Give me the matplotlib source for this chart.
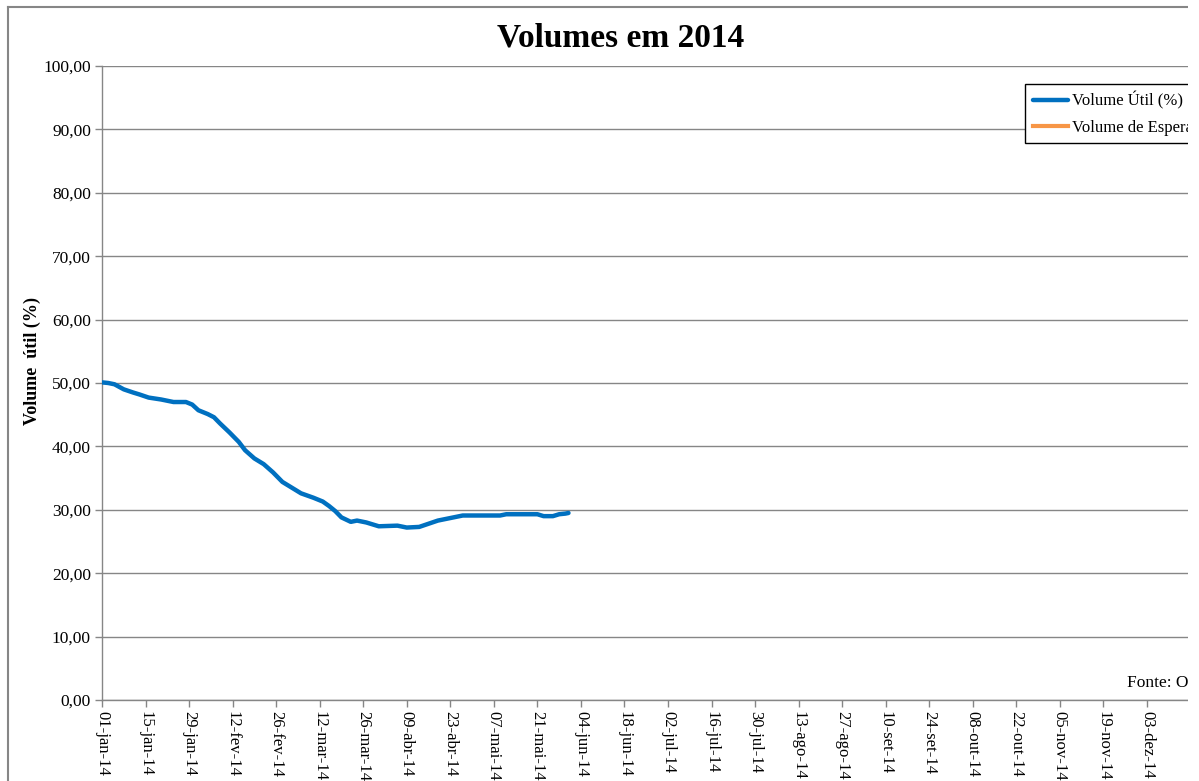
import datetime
import numpy as np
import matplotlib
matplotlib.use('Agg')
import matplotlib.pyplot as plt
from matplotlib.patches import Rectangle
from matplotlib.lines import Line2D

plt.rcParams['font.family'] = ['Liberation Serif', 'DejaVu Serif']

# volume util (%)
dias = ['2014-01-01', '2014-01-03', '2014-01-05', '2014-01-08', '2014-01-11',
        '2014-01-13', '2014-01-16', '2014-01-20', '2014-01-24', '2014-01-28',
        '2014-01-30', '2014-02-01', '2014-02-04', '2014-02-06', '2014-02-08',
        '2014-02-11', '2014-02-14', '2014-02-16', '2014-02-19', '2014-02-22',
        '2014-02-25', '2014-02-28', '2014-03-03', '2014-03-06', '2014-03-10',
        '2014-03-13', '2014-03-15', '2014-03-17', '2014-03-19', '2014-03-22',
        '2014-03-24', '2014-03-27', '2014-03-31', '2014-04-06', '2014-04-09',
        '2014-04-13', '2014-04-16', '2014-04-19', '2014-04-24', '2014-04-27',
        '2014-05-02', '2014-05-09', '2014-05-11', '2014-05-21', '2014-05-23',
        '2014-05-26', '2014-05-28', '2014-05-30', '2014-05-31']
volume_util = [50.1, 50.0, 49.8, 49.0, 48.5,
               48.2, 47.7, 47.4, 47.0, 47.0,
               46.6, 45.7, 45.1, 44.6, 43.6,
               42.2, 40.7, 39.4, 38.1, 37.2,
               35.9, 34.4, 33.5, 32.6, 31.9,
               31.3, 30.6, 29.8, 28.8, 28.1,
               28.3, 28.0, 27.4, 27.5, 27.2,
               27.3, 27.8, 28.3, 28.8, 29.1,
               29.1, 29.1, 29.3, 29.3, 29.0,
               29.0, 29.3, 29.4, 29.5]
volume_espera = []

tick_labels = ['01-jan-14', '15-jan-14', '29-jan-14', '12-fev-14', '26-fev-14',
               '12-mar-14', '26-mar-14', '09-abr-14', '23-abr-14', '07-mai-14',
               '21-mai-14', '04-jun-14', '18-jun-14', '02-jul-14', '16-jul-14',
               '30-jul-14', '13-ago-14', '27-ago-14', '10-set-14', '24-set-14',
               '08-out-14', '22-out-14', '05-nov-14', '19-nov-14', '03-dez-14']

W, H = 1199, 781
fig = plt.figure(figsize=(W / 100, H / 100), dpi=100)
ax = fig.add_axes([102 / W, 1 - 700 / H, 1132 / W, 634 / H])

inicio = datetime.datetime(2014, 1, 1)
datas = [datetime.datetime.strptime(d, '%Y-%m-%d') for d in dias]
ticks = [inicio + datetime.timedelta(days=14 * i) for i in range(len(tick_labels))]

cinza = '#868686'
ax.plot(datas, volume_util, color='#0070C0', linewidth=3.2,
        solid_capstyle='round', solid_joinstyle='round',
        label='Volume Útil (%)', zorder=3)
ax.plot([], [], color='#F79646', linewidth=3, label='Volume de Espera')

ax.set_xlim(inicio, datetime.datetime(2014, 12, 31))
ax.set_ylim(0, 100)
ax.set_xticks(ticks)
ax.set_xticklabels(tick_labels, rotation=270, fontsize=12)
yt = np.arange(0, 101, 10)
ax.set_yticks(yt)
ax.set_yticklabels([('%.2f' % v).replace('.', ',') for v in yt], fontsize=12.5)
ax.yaxis.grid(True, color=cinza, linewidth=1)
ax.set_axisbelow(True)
for s in ['top', 'right']:
    ax.spines[s].set_visible(False)
for s in ['left', 'bottom']:
    ax.spines[s].set_color(cinza)
    ax.spines[s].set_linewidth(1)
ax.tick_params(axis='both', direction='out', length=5, color=cinza, width=1, pad=3)
ax.set_ylabel('Volume  útil (%)', fontsize=13, fontweight='bold')
ax.yaxis.set_label_coords(-61 / 1132, 0.535)

fig.text(621 / W, 1 - 38 / H, 'Volumes em 2014', fontsize=24, fontweight='bold',
         ha='center', va='center')
fig.text(1127 / W, 1 - 683 / H, 'Fonte: ONS', fontsize=12.5, ha='left', va='center')

leg = fig.legend(loc='upper left', bbox_to_anchor=(1025 / W, 1 - 84 / H),
                 fontsize=12, frameon=True, fancybox=False, framealpha=1,
                 edgecolor='black', handlelength=2.1, handletextpad=0.3,
                 borderpad=0.45, labelspacing=0.6, borderaxespad=0)
leg.get_frame().set_linewidth(1)

# borda do grafico e recorte a direita
fig.add_artist(Line2D([8 / W, 8 / W], [0, 1 - 7 / H], color=cinza, linewidth=1.5))
fig.add_artist(Line2D([8 / W, 1188 / W], [1 - 7 / H, 1 - 7 / H], color=cinza, linewidth=1.5))
fig.add_artist(Rectangle((1188 / W, 0), 20 / W, 1, transform=fig.transFigure,
                         facecolor='white', edgecolor='none', zorder=100))

fig.savefig('out.png', dpi=100)
